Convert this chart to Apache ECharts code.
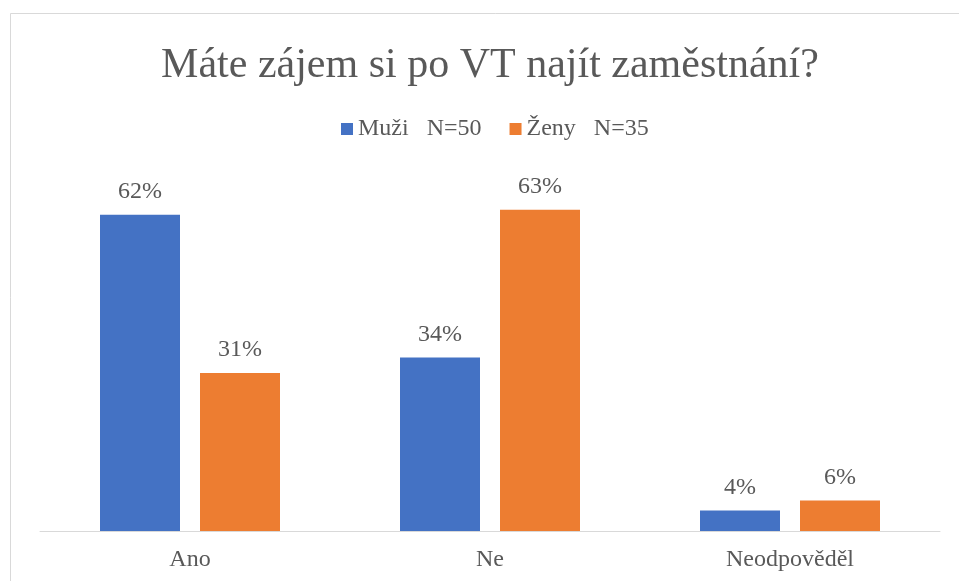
<!DOCTYPE html>
<html>
<head>
<meta charset="utf-8">
<script src="https://cdn.jsdelivr.net/npm/echarts@6/dist/echarts.min.js"></script>
<style>
html,body{margin:0;padding:0;background:#fff;overflow:hidden;}
#c{width:980px;height:581px;}
</style>
</head>
<body>
<div id="c"></div>
<script>
const titleText = 'Máte zájem si po VT najít zaměstnání?';
const categories = ['Ano', 'Ne', 'Neodpověděl'];
const seriesNames = ['Muži   N=50', 'Ženy   N=35'];
const muzi = [62, 34, 4];
const zeny = [31, 63, 6];

const FONT = '"Liberation Serif", "Times New Roman", serif';
const TXT = '#595959';

const chart = echarts.init(document.getElementById('c'));
chart.setOption({
  animation: false,
  backgroundColor: '#ffffff',
  graphic: [{
    type: 'rect',
    shape: {x: 10.5, y: 13.5, width: 1200, height: 1000},
    style: {fill: 'none', stroke: '#d9d9d9', lineWidth: 1},
    silent: true
  }],
  title: {
    text: titleText,
    left: 'center',
    top: 40,
    textStyle: {fontFamily: FONT, fontSize: 42, fontWeight: 'normal', color: TXT}
  },
  legend: {
    left: 341,
    top: 117,
    padding: 0,
    itemWidth: 12,
    itemHeight: 12,
    itemGap: 28,
    icon: 'rect',
    textStyle: {fontFamily: FONT, fontSize: 24, color: TXT},
    data: seriesNames
  },
  grid: {left: 40, right: 40, top: 174, bottom: 50},
  xAxis: {
    type: 'category',
    data: categories,
    axisLine: {lineStyle: {color: '#d9d9d9', width: 1}},
    axisTick: {show: false},
    axisLabel: {fontFamily: FONT, fontSize: 24, color: TXT, margin: 17}
  },
  yAxis: {
    type: 'value',
    min: 0,
    max: 70,
    show: false,
    splitLine: {show: false}
  },
  series: [
    {
      name: seriesNames[0],
      type: 'bar',
      data: muzi,
      barWidth: 80,
      barGap: '25%',
      itemStyle: {color: '#4472C4'},
      label: {show: true, position: 'top', distance: 11, formatter: '{c}%',
        fontFamily: FONT, fontSize: 24, color: TXT}
    },
    {
      name: seriesNames[1],
      type: 'bar',
      data: zeny,
      barWidth: 80,
      barGap: '25%',
      itemStyle: {color: '#ED7D31'},
      label: {show: true, position: 'top', distance: 11, formatter: '{c}%',
        fontFamily: FONT, fontSize: 24, color: TXT}
    }
  ]
});
</script>
</body>
</html>
